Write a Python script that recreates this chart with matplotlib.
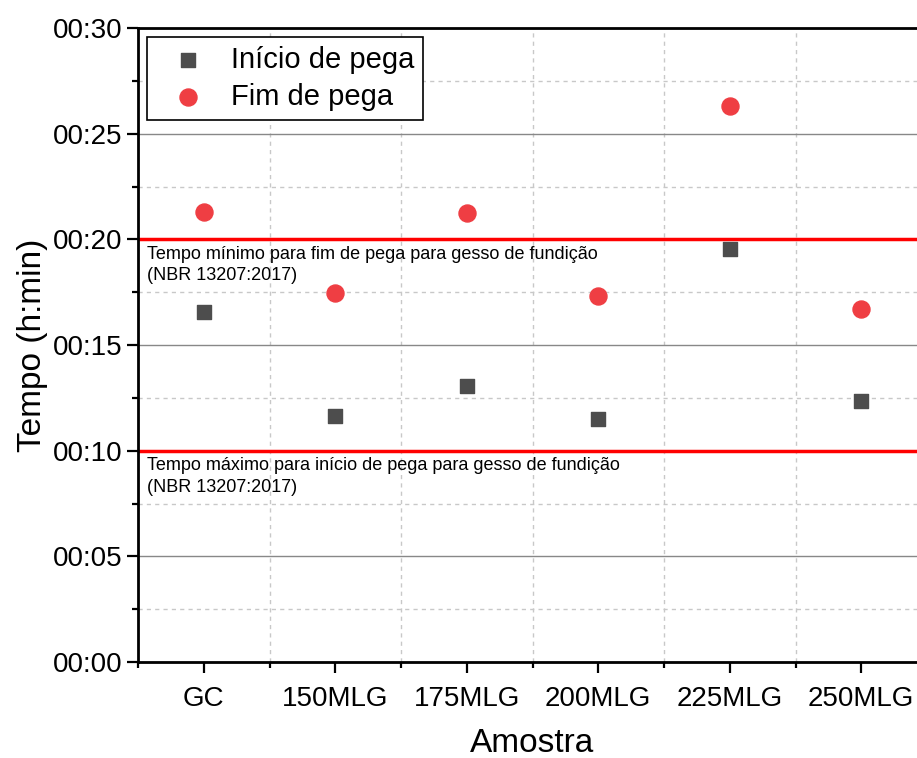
import matplotlib.pyplot as plt
from matplotlib.ticker import MultipleLocator, FuncFormatter

plt.rcParams['font.family'] = ['Liberation Sans', 'DejaVu Sans']

# data (minutes)
amostras = ["GC", "150MLG", "175MLG", "200MLG", "225MLG", "250MLG"]
inicio = [16.55, 11.65, 13.07, 11.50, 19.55, 12.37]
fim = [21.30, 17.45, 21.23, 17.30, 26.32, 16.72]
limite_fim = 20
limite_inicio = 10

fig = plt.figure(figsize=(9.17, 7.58), dpi=100)
ax = fig.add_axes([138 / 917, 96 / 758, 789 / 917, 634 / 758])

x = list(range(1, len(amostras) + 1))
ax.scatter(x, inicio, marker="s", s=110, color="#4d4d4d", label="Início de pega", zorder=3)
ax.scatter(x, fim, marker="o", s=150, color="#ef3e43", label="Fim de pega", zorder=3)

ax.axhline(limite_fim, color="red", lw=2.5, zorder=2)
ax.axhline(limite_inicio, color="red", lw=2.5, zorder=2)

ax.text(0.57, limite_fim - 0.3, "Tempo mínimo para fim de pega para gesso de fundição\n(NBR 13207:2017)",
        fontsize=13, va="top", ha="left", linespacing=1.35)
ax.text(0.57, limite_inicio - 0.3, "Tempo máximo para início de pega para gesso de fundição\n(NBR 13207:2017)",
        fontsize=13, va="top", ha="left", linespacing=1.35)

ax.set_xlim(0.5, 6.5)
ax.set_ylim(0, 30)
ax.set_xticks(x)
ax.set_xticklabels(amostras)
ax.set_xticks([i + 0.5 for i in range(0, 7)], minor=True)
ax.yaxis.set_major_locator(MultipleLocator(5))
ax.yaxis.set_minor_locator(MultipleLocator(2.5))
ax.yaxis.set_major_formatter(FuncFormatter(lambda v, p: f"00:{int(round(v)):02d}"))

ax.grid(True, which="major", axis="y", color="#888888", lw=1.0, zorder=0)
ax.grid(True, which="minor", axis="y", color="#c8c8c8", lw=1.0, ls=(0, (3, 3)), zorder=0)
ax.grid(True, which="minor", axis="x", color="#c8c8c8", lw=1.0, ls=(0, (3, 3)), zorder=0)
ax.set_axisbelow(True)

ax.tick_params(which="major", direction="out", length=8, width=1.6, labelsize=20)
ax.tick_params(which="minor", direction="out", length=4, width=1.6)
ax.tick_params(axis="x", pad=9)
for s in ax.spines.values():
    s.set_linewidth(2)

ax.set_xlabel("Amostra", fontsize=24, labelpad=12)
ax.set_ylabel("Tempo (h:min)", fontsize=24, labelpad=3)

leg = ax.legend(loc="upper left", fontsize=21, frameon=True, fancybox=False,
                edgecolor="black", framealpha=1, borderaxespad=0.3,
                handletextpad=0.4, borderpad=0.3, labelspacing=0.32, handlelength=2.2)
leg.get_frame().set_linewidth(1.2)

fig.savefig("out.png", dpi=100)
